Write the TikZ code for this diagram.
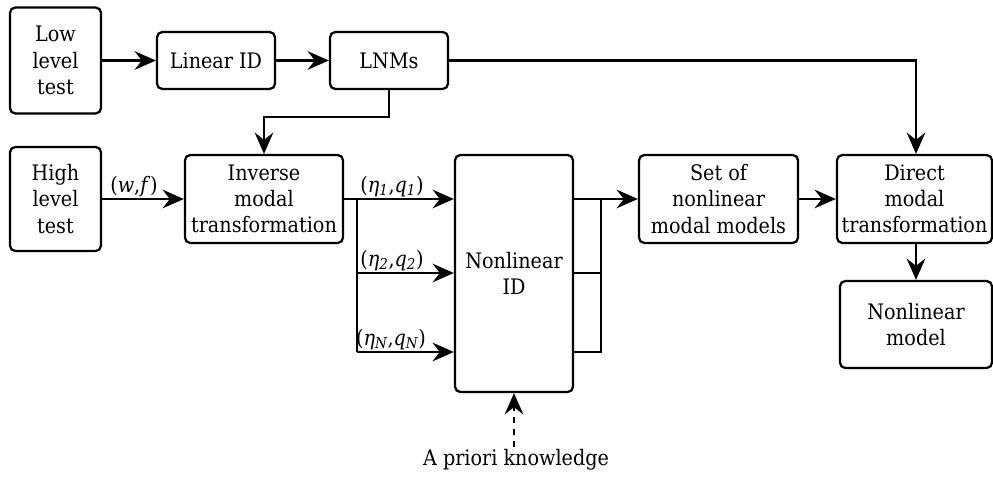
\documentclass[tikz,border=0pt]{standalone}
\usepackage{fontspec}
\setmainfont{DejaVu Serif Condensed}
\usetikzlibrary{arrows.meta}
\newcommand{\lbl}[2]{(\textit{#1},\textit{#2})}

\begin{document}
\begin{tikzpicture}[x=0.75pt, y=-0.75pt,
  box/.style  = {draw, rounded corners=4pt, line width=1.7pt, align=center,
                 inner sep=0pt, font=\fontsize{16}{19.6}\selectfont},
  tag/.style  = {font=\fontsize{16}{19.6}\selectfont, inner sep=1.5pt},
  ln/.style   = {line width=1.7pt},
  e/.style    = {ln, -{Stealth[length=16pt, width=14pt, inset=5.5pt]}}]
\useasboundingbox (0,0) rectangle (993,477);

% --- blocks -----------------------------------------------------------
\node[box, minimum width=68.25pt, minimum height=79.5pt]  (low)  at (55.5,60.5)  {Low\\level\\test};
\node[box, minimum width=88.5pt,  minimum height=42.75pt] (lin)  at (216,60.5)   {Linear ID};
\node[box, minimum width=88.5pt,  minimum height=42.75pt] (lnm)  at (389,60.5)   {LNMs};
\node[box, minimum width=68.25pt, minimum height=78pt]    (high) at (55.5,199)   {High\\level\\test};
\node[box, minimum width=118.5pt, minimum height=66pt]    (imt)  at (264,199)    {Inverse\\modal\\transformation};
\node[box, minimum width=88.5pt,  minimum height=177.75pt] (nid) at (514,273.5)  {Nonlinear\\ID};
\node[box, minimum width=119.25pt, minimum height=66pt]   (set)  at (718.5,199)  {Set of\\nonlinear\\modal models};
\node[box, minimum width=116.25pt, minimum height=66pt]   (dmt)  at (914.5,199)  {Direct\\modal\\transformation};
\node[box, minimum width=114pt,   minimum height=65.25pt] (nlm)  at (916,324.5)  {Nonlinear\\model};
\node[tag] (apk) at (516,460) {A priori knowledge};

% --- junctions --------------------------------------------------------
\coordinate (k1) at (389,117);
\coordinate (s1) at (357,199);
\coordinate (s2) at (357,273);
\coordinate (sN) at (357,352);
\coordinate (j1) at (601,199);
\coordinate (j2) at (601,273);
\coordinate (jN) at (601,352);

% --- edges ------------------------------------------------------------
\draw[e] (low) -- (lin);
\draw[e] (lin) -- (lnm);
\draw[e] (lnm.south) -- (k1) -| (imt.north);
\draw[e] (lnm.east) -| (nlm.north |- dmt.north);
\draw[e] (high) -- (imt);
\draw[ln] (imt.east |- s1) -- (s1) -- (sN);
\draw[e] (s1) -- (s1 -| nid.west);
\draw[e] (s2) -- (s2 -| nid.west);
\draw[e] (sN) -- (sN -| nid.west);
\draw[ln] (nid.east |- jN) -- (jN) -- (j1);
\draw[ln] (nid.east |- j2) -- (j2);
\draw[e] (nid.east |- j1) -- (set.west);
\draw[e] (set) -- (dmt);
\draw[e] (nlm.north |- dmt.south) -- (nlm.north);
\draw[e, dash pattern=on 5pt off 4pt] (apk.north -| nid.south) -- (nid.south);

% --- labels -----------------------------------------------------------
\node[tag, anchor=south] (lw) at (134,199) {\lbl{w}{f}};
\node[tag, anchor=south] (l1) at (392,199) {\lbl{η\textsubscript{\textit{1}}}{q\textsubscript{\textit{1}}}};
\node[tag, anchor=south] (l2) at (392,273) {\lbl{η\textsubscript{\textit{2}}}{q\textsubscript{\textit{2}}}};
\node[tag, anchor=south] (lN) at (391,352) {\lbl{η\textsubscript{\textit{N}}}{q\textsubscript{\textit{N}}}};
\end{tikzpicture}
\end{document}
